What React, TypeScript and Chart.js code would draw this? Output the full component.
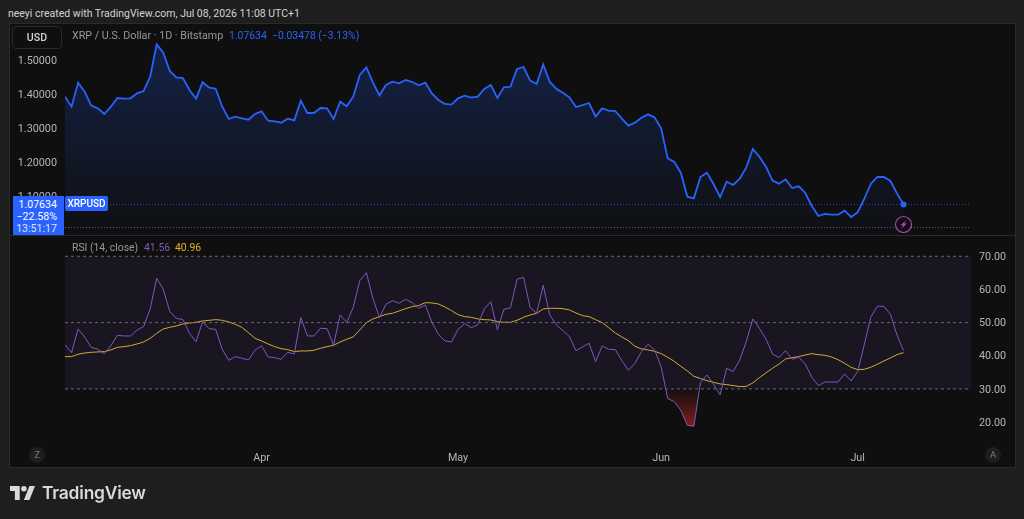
import React, { useEffect, useRef } from "react";
import { Chart, registerables } from "chart.js";

Chart.register(...registerables);

const priceValues = [
  1.3925, 1.3631, 1.4335, 1.4071, 1.3661, 1.3583, 1.3416, 1.3631, 1.3886, 1.3866,
  1.3876, 1.4022, 1.4091, 1.4511, 1.5459, 1.5215, 1.4677, 1.4492, 1.4472, 1.412,
  1.3866, 1.4345, 1.4189, 1.4159, 1.3631, 1.327, 1.3338, 1.3289, 1.325, 1.3416,
  1.3495, 1.3221, 1.3201, 1.3162, 1.328, 1.3231, 1.3807, 1.3446, 1.3446, 1.3592,
  1.3583, 1.327, 1.3778, 1.3641, 1.3925, 1.456, 1.4785, 1.4345, 1.3964, 1.4267,
  1.4365, 1.4316, 1.4413, 1.4355, 1.4257, 1.4335, 1.4022, 1.3827, 1.371, 1.369,
  1.3876, 1.3954, 1.3895, 1.3925, 1.415, 1.4267, 1.3886, 1.4198, 1.4218, 1.4736,
  1.4795, 1.4394, 1.4296, 1.4873, 1.4355, 1.4159, 1.4042, 1.3905, 1.3622, 1.368,
  1.3739, 1.3338, 1.3583, 1.3514, 1.3504, 1.328, 1.3074, 1.3162, 1.3309, 1.3407,
  1.3319, 1.2996, 1.2116, 1.2009, 1.1696, 1.0992, 1.0943, 1.1569, 1.1696, 1.1364,
  1.0982, 1.1432, 1.1334, 1.152, 1.1852, 1.239, 1.2165, 1.1872, 1.1461, 1.1373,
  1.15, 1.1246, 1.1295, 1.11, 1.0718, 1.0425, 1.0484, 1.0464, 1.0464, 1.0582,
  1.0396, 1.0533, 1.0924, 1.1364, 1.1569, 1.1569, 1.1452, 1.109, 1.07634,
];

const rsiValues = [
  43.27, 40.96, 48.09, 45.68, 42.56, 41.96, 40.65, 43.07, 46.18, 45.98,
  45.98, 47.79, 48.79, 54.12, 63.37, 60.05, 53.32, 51.31, 50.9, 46.78,
  44.27, 50.2, 48.19, 47.99, 41.96, 38.64, 39.75, 39.25, 38.74, 41.66,
  43.07, 39.65, 39.45, 38.95, 41.06, 40.55, 51.51, 45.98, 45.98, 48.29,
  48.19, 43.27, 52.31, 50.0, 54.62, 62.66, 65.08, 57.34, 51.51, 55.53,
  56.63, 55.83, 57.04, 56.03, 54.32, 55.33, 50.1, 46.48, 44.47, 44.17,
  47.99, 49.7, 48.49, 49.3, 54.12, 56.33, 47.89, 54.02, 54.42, 63.07,
  63.67, 54.52, 52.81, 61.26, 52.31, 49.3, 47.59, 45.78, 41.56, 42.66,
  43.77, 38.24, 42.97, 41.96, 41.86, 38.54, 35.63, 37.74, 41.26, 43.47,
  41.76, 36.73, 27.09, 26.18, 23.57, 19.05, 18.74, 32.01, 34.22, 31.41,
  28.19, 36.23, 35.23, 38.74, 44.27, 51.11, 48.29, 45.08, 40.55, 39.45,
  41.56, 38.95, 39.55, 37.54, 33.52, 31.01, 32.11, 32.11, 32.11, 34.52,
  32.41, 35.23, 43.27, 51.61, 54.92, 54.92, 52.51, 46.28, 41.56,
];

const rsiMaValues = [
  39.75, 39.75, 40.45, 40.85, 41.06, 41.16, 41.26, 41.76, 42.56, 42.76,
  43.07, 43.57, 44.17, 45.28, 46.78, 48.09, 48.59, 49.0, 49.6, 49.9,
  50.1, 50.5, 50.7, 50.9, 50.7, 50.2, 49.5, 48.59, 46.99, 45.28,
  44.47, 43.57, 42.76, 42.16, 41.86, 41.26, 41.46, 41.46, 41.66, 42.26,
  42.76, 43.17, 44.17, 44.98, 45.68, 47.79, 50.0, 51.11, 51.81, 52.51,
  52.81, 53.52, 54.22, 54.82, 55.13, 56.03, 55.93, 55.63, 54.72, 53.62,
  52.41, 51.81, 51.61, 51.11, 50.9, 50.8, 50.3, 50.1, 50.1, 50.7,
  51.61, 52.31, 52.81, 54.12, 54.32, 54.32, 54.22, 53.82, 52.91, 52.11,
  51.81, 50.9, 50.0, 48.49, 46.89, 45.68, 44.57, 42.86, 42.06, 41.76,
  41.36, 40.65, 39.55, 38.34, 36.83, 35.43, 33.82, 33.12, 32.51, 32.01,
  31.51, 31.31, 31.01, 30.7, 30.8, 31.81, 33.42, 34.82, 36.23, 37.54,
  39.05, 39.45, 39.75, 40.25, 40.65, 40.35, 40.15, 39.65, 38.84, 37.74,
  36.53, 35.83, 35.93, 36.53, 37.44, 38.44, 39.35, 40.35, 40.96,
];

const priceTicks = [1.1, 1.2, 1.3, 1.4, 1.5];
const rsiTicks = [20, 30, 40, 50, 60, 70];
const monthTicks = [30, 60, 91, 121];
const monthLabels = ["Apr", "May", "Jun", "Jul"];
const rsiLevels = [70, 50, 30];

const lastPrice = 1.07634;
const prevMarker = 1.0088;
const markerIndex = 128;
const xMax = 138.3;

const FONT = "Roboto, sans-serif";
const TEXT = "#b2b5be";
const BLUE = "#2962ff";
const PANEL = "#0f0f0f";

const series = (vals: number[]) => vals.map((y, x) => ({ x, y }));
const level = (y: number) => [{ x: 0, y }, { x: xMax, y }];
const noPadding = (s: any) => {
  s.paddingTop = 0;
  s.paddingBottom = 0;
  s.paddingLeft = 0;
  s.paddingRight = 0;
};

const boltPlugin = {
  id: "bolt",
  afterDatasetsDraw(chart: any) {
    const { ctx, scales } = chart;
    const cx = scales.x.getPixelForValue(markerIndex);
    const cy = scales.y.getPixelForValue(prevMarker) - 3;
    ctx.save();
    ctx.fillStyle = PANEL;
    ctx.strokeStyle = "#ab47bc";
    ctx.lineWidth = 1.2;
    ctx.beginPath();
    ctx.arc(cx, cy, 8, 0, Math.PI * 2);
    ctx.fill();
    ctx.stroke();
    ctx.fillStyle = "#ab47bc";
    ctx.beginPath();
    ctx.moveTo(cx + 2.8, cy - 4.5);
    ctx.lineTo(cx - 3.2, cy + 0.8);
    ctx.lineTo(cx - 0.4, cy + 0.8);
    ctx.lineTo(cx - 2.6, cy + 4.5);
    ctx.lineTo(cx + 3.4, cy - 1);
    ctx.lineTo(cx + 0.5, cy - 1);
    ctx.closePath();
    ctx.fill();
    ctx.restore();
  },
};

const abs = (l: number, t: number, extra: React.CSSProperties = {}): React.CSSProperties => ({
  position: "absolute",
  left: l,
  top: t,
  whiteSpace: "nowrap",
  ...extra,
});

export default function App() {
  const priceRef = useRef<HTMLCanvasElement>(null);
  const rsiRef = useRef<HTMLCanvasElement>(null);

  useEffect(() => {
    document.body.style.margin = "0";
    document.body.style.background = "#1e1e1e";

    const priceChart = new Chart(priceRef.current!, {
      type: "line",
      plugins: [boltPlugin],
      data: {
        datasets: [
          {
            data: series(priceValues),
            borderColor: BLUE,
            borderWidth: 1.8,
            tension: 0,
            fill: "start",
            backgroundColor: (c: any) => {
              const a = c.chart.chartArea;
              if (!a) return "transparent";
              const g = c.chart.ctx.createLinearGradient(0, a.top, 0, a.bottom);
              g.addColorStop(0, "rgba(41,98,255,0.26)");
              g.addColorStop(1, "rgba(41,98,255,0.01)");
              return g;
            },
            pointRadius: (c: any) => (c.dataIndex === priceValues.length - 1 ? 3 : 0),
            pointBackgroundColor: BLUE,
            pointBorderWidth: 0,
          },
          {
            data: level(lastPrice),
            borderColor: "rgba(41,98,255,0.7)",
            borderWidth: 1,
            borderDash: [1, 2],
            pointRadius: 0,
            fill: false,
          },
          {
            data: level(prevMarker),
            borderColor: "#5d5f66",
            borderWidth: 1,
            borderDash: [1, 2],
            pointRadius: 0,
            fill: false,
          },
        ],
      },
      options: {
        animation: false,
        responsive: false,
        events: [],
        layout: { autoPadding: false, padding: { right: 44, left: 0, top: 0, bottom: 0 } },
        plugins: { legend: { display: false }, tooltip: { enabled: false } },
        scales: {
          x: { type: "linear", min: 0, max: xMax, display: false },
          y: {
            type: "linear",
            position: "left",
            min: 0.9868,
            max: 1.6056,
            grid: { display: false, drawTicks: false },
            border: { display: false },
            afterBuildTicks: (s: any) => {
              s.ticks = priceTicks.map((value) => ({ value }));
            },
            afterFit: (s: any) => {
              s.width = 55;
              noPadding(s);
            },
            ticks: {
              color: TEXT,
              padding: 8,
              labelOffset: 1,
              font: { family: FONT, size: 10.8 },
              callback: (v: any) => Number(v).toFixed(5),
            },
          },
        },
      },
    } as any);

    const rsiChart = new Chart(rsiRef.current!, {
      type: "line",
      data: {
        datasets: [
          ...rsiLevels.map((v) => ({
            data: level(v),
            borderColor: "#66666e",
            borderWidth: 1,
            borderDash: [3, 3],
            pointRadius: 0,
            fill: v === 70 ? { target: { value: 30 } } : false,
            backgroundColor: "rgba(126,87,194,0.1)",
          })),
          {
            data: series(rsiValues),
            borderColor: "#7e57c2",
            borderWidth: 1,
            pointRadius: 0,
            tension: 0,
            fill: { target: { value: 30 }, above: "rgba(0,0,0,0)", below: "rgba(0,0,0,0)" },
          },
          {
            data: series(rsiMaValues),
            borderColor: "#e0b422",
            borderWidth: 1,
            pointRadius: 0,
            tension: 0,
            fill: false,
          },
        ],
      },
      options: {
        animation: false,
        responsive: false,
        events: [],
        layout: { autoPadding: false, padding: { left: 55, right: 0, top: 0, bottom: 0 } },
        plugins: { legend: { display: false }, tooltip: { enabled: false } },
        scales: {
          x: {
            type: "linear",
            min: 0,
            max: xMax,
            grid: { display: false, drawTicks: false },
            border: { display: false },
            afterBuildTicks: (s: any) => {
              s.ticks = monthTicks.map((value) => ({ value }));
            },
            afterFit: (s: any) => {
              s.height = 21;
              noPadding(s);
            },
            ticks: {
              color: TEXT,
              padding: 7,
              maxRotation: 0,
              autoSkip: false,
              font: { family: FONT, size: 10.8 },
              callback: (v: any) => monthLabels[monthTicks.indexOf(Number(v))] ?? "",
            },
          },
          y: {
            type: "linear",
            position: "right",
            min: 13.1,
            max: 76.12,
            grid: { display: false, drawTicks: false },
            border: { display: false },
            afterBuildTicks: (s: any) => {
              s.ticks = rsiTicks.map((value) => ({ value }));
            },
            afterFit: (s: any) => {
              s.width = 44;
              noPadding(s);
            },
            ticks: {
              color: TEXT,
              padding: 8,
              labelOffset: 1,
              font: { family: FONT, size: 10.8 },
              callback: (v: any) => Number(v).toFixed(2),
            },
          },
        },
      },
    } as any);

    const y = rsiChart.scales.y as any;
    const g = rsiChart.ctx.createLinearGradient(0, y.getPixelForValue(30), 0, y.getPixelForValue(18.7));
    g.addColorStop(0, "rgba(140,30,30,0.05)");
    g.addColorStop(1, "rgba(160,35,35,0.8)");
    (rsiChart.data.datasets[3] as any).fill.below = g;
    rsiChart.update();

    return () => {
      priceChart.destroy();
      rsiChart.destroy();
    };
  }, []);

  const tf: React.CSSProperties = { fontFamily: FONT, fontSize: 10.4, lineHeight: "14px" };
  const round: React.CSSProperties = {
    width: 16,
    height: 16,
    borderRadius: 8,
    background: "#1e1e1e",
    color: "#787b86",
    fontFamily: FONT,
    fontSize: 9.5,
    lineHeight: "16px",
    textAlign: "center",
  };

  return (
    <div style={{ position: "fixed", left: 0, top: 0, width: 1024, height: 519, background: "#1e1e1e", overflow: "hidden" }}>
      <div style={abs(8, 7, { ...tf, fontSize: 10.5, color: "#d1d4dc" })}>neeyi created with TradingView.com, Jul 08, 2026 11:08 UTC+1</div>
      <div style={abs(9, 23, { width: 1005, height: 443, background: PANEL, border: "1px solid #2a2a2a" })} />
      <canvas ref={priceRef} width={1005} height={211} style={abs(10, 24, { display: "block" })} />
      <div style={abs(10, 235, { width: 1005, height: 1, background: "#2a2a2a" })} />
      <canvas ref={rsiRef} width={1005} height={230} style={abs(10, 236, { display: "block" })} />

      <div style={abs(12, 26, { width: 48, height: 21, border: "1px solid #2a2a2a", borderRadius: 4, color: "#d1d4dc", fontFamily: FONT, fontSize: 10.6, fontWeight: 500, lineHeight: "22px", textAlign: "center" })}>USD</div>
      <div style={abs(72, 29, { ...tf, fontSize: 10.7, color: "#9598a1" })}>XRP / U.S. Dollar · 1D · Bitstamp</div>
      <div style={abs(229, 29, { ...tf, color: BLUE })}>1.07634</div>
      <div style={abs(272, 29, { ...tf, color: BLUE })}>−0.03478 (−3.13%)</div>

      <div style={abs(13, 196, { width: 51, height: 39, background: BLUE, color: "#fff", fontFamily: FONT, fontSize: 10.6, lineHeight: "12px", textAlign: "right", boxSizing: "border-box", padding: "3px 7px 0 0" })}>
        1.07634<br />−22.58%<br /><span style={{ color: "#dbe4ff" }}>13:51:17</span>
      </div>
      <div style={abs(65, 196, { width: 43, height: 15, background: BLUE, borderRadius: 2, color: "#fff", fontFamily: FONT, fontSize: 10, fontWeight: 500, lineHeight: "15px", textAlign: "center" })}>XRPUSD</div>

      <div style={abs(72, 241, { ...tf, color: "#9598a1" })}>RSI (14, close)</div>
      <div style={abs(144, 241, { ...tf, color: "#7e57c2" })}>41.56</div>
      <div style={abs(175, 241, { ...tf, color: "#e0b422" })}>40.96</div>

      <div style={abs(29, 447, round)}>Z</div>
      <div style={abs(985, 447, round)}>A</div>

      <svg width={25} height={14} viewBox="0 0 36 20" style={abs(10, 486)}>
        <path fill="#d9d9d9" d="M14 0H0v7h7v13h7V0zM28 20h-8L28 0h8l-8 20z" />
        <circle fill="#d9d9d9" cx="20" cy="4" r="4" />
      </svg>
      <div style={abs(42, 482, { color: "#d9d9d9", fontFamily: "Inter, sans-serif", fontSize: 17.4, fontWeight: 600, lineHeight: "22px", letterSpacing: "-0.2px" })}>TradingView</div>
    </div>
  );
}
